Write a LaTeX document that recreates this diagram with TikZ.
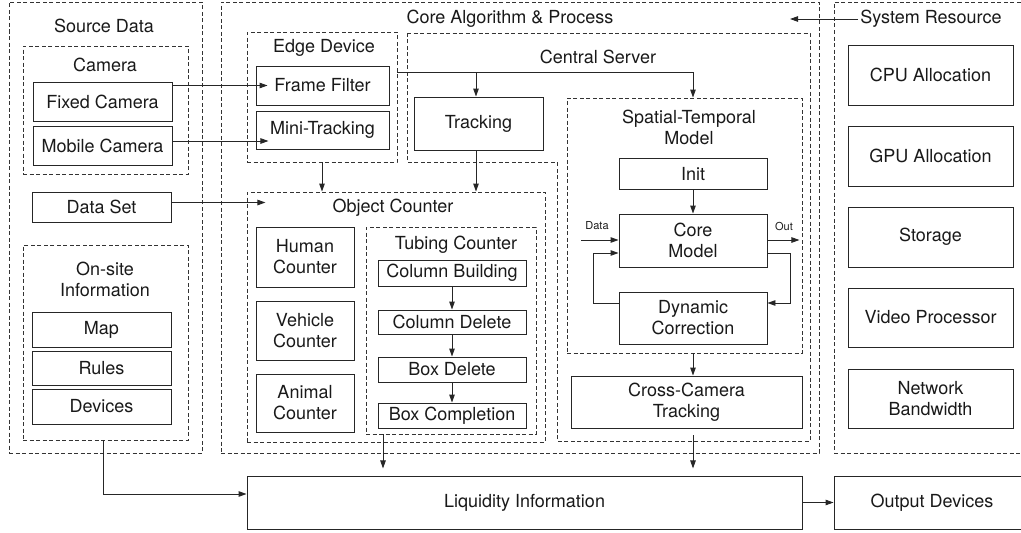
\documentclass[tikz,border=0pt]{standalone}
\usepackage{fontspec}
\setmainfont{TeX Gyre Heros}
\usetikzlibrary{arrows.meta,calc}
\begin{document}
\begin{tikzpicture}[x=1pt,y=-1pt,
  font=\fontsize{18}{21}\selectfont,
  box/.style={draw=black!85, line width=0.9pt, align=center, inner sep=0pt, text=black!90},
  grp/.style={draw=black!80, line width=0.9pt, dash pattern=on 4pt off 2.5pt, inner sep=0pt},
  lbl/.style={align=center, inner sep=2pt, text=black!90},
  small/.style={font=\fontsize{11}{13}\selectfont, inner sep=0pt, text=black!90},
  arr/.style={draw=black!85, line width=0.9pt, -{Triangle[length=8pt,width=5.5pt]}},
  ln/.style={draw=black!85, line width=0.9pt}
]
\useasboundingbox (0,0) rectangle (1021,533);
\clip (0,0) rectangle (1021,533);

% ---------- groups ----------
\node[grp, minimum width=193pt, minimum height=451pt] (sd) at (105.5,227.5) {};
\node[lbl] (sdl) at (104,26) {Source Data};
\node[grp, minimum width=165pt, minimum height=128pt] (cam) at (105.5,110) {};
\node[lbl] (caml) at (105,65) {Camera};
\node[grp, minimum width=165pt, minimum height=195pt] (osi) at (105.5,342.5) {};
\node[lbl] (osil) at (105,279) {On-site\\Information};

\node[grp, minimum width=598pt, minimum height=451pt] (core) at (520,227.5) {};
\node[lbl] (corel) at (510,19) {Core Algorithm \& Process};
\node[grp, minimum width=196pt, minimum height=451pt] (sr) at (932,227.5) {};
\node[lbl] (srl) at (931,19) {System Resource};

\node[grp, minimum width=150pt, minimum height=130pt] (ed) at (322,97) {};
\node[lbl] (edl) at (324,48) {Edge Device};
\draw[grp] (407,33) -- (810,33) -- (810,441) -- (557,441) -- (557,162) -- (407,162) -- cycle;
\node[lbl] (csl) at (598,57) {Central Server};
\node[grp, minimum width=235pt, minimum height=255pt] (stm) at (684.5,225.5) {};
\node[lbl] (stml) at (689,127) {Spatial-Temporal\\Model};
\node[grp, minimum width=298pt, minimum height=250pt] (oc) at (396,317) {};
\node[lbl] (ocl) at (393,208) {Object Counter};
\node[grp, minimum width=170pt, minimum height=207pt] (tc) at (451,330.5) {};
\node[lbl] (tcl) at (456,245) {Tubing Counter};

% ---------- boxes ----------
\node[box, minimum width=139pt, minimum height=39pt] (fixed) at (102.5,101.5) {Fixed Camera};
\node[box, minimum width=139pt, minimum height=39pt] (mobile) at (102.5,145.5) {Mobile Camera};
\node[box, minimum width=139pt, minimum height=30pt] (ds) at (101.5,207) {Data Set};
\node[box, minimum width=139pt, minimum height=35pt] (map) at (101.5,329.5) {Map};
\node[box, minimum width=139pt, minimum height=34pt] (rules) at (101.5,368) {Rules};
\node[box, minimum width=139pt, minimum height=35pt] (dev) at (101.5,406.5) {Devices};

\node[box, minimum width=133pt, minimum height=39pt] (ff) at (322.5,85.5) {Frame Filter};
\node[box, minimum width=133pt, minimum height=38pt] (mt) at (322.5,130) {Mini-Tracking};
\node[box, minimum width=129pt, minimum height=53pt] (track) at (478.5,123.5) {Tracking};

\node[box, minimum width=148pt, minimum height=31pt] (init) at (693,173.5) {Init};
\node[box, minimum width=148pt, minimum height=53pt] (cm) at (693,240.5) {Core\\Model};
\node[box, minimum width=148pt, minimum height=52pt] (dyn) at (693,318) {Dynamic\\Correction};
\node[box, minimum width=231pt, minimum height=52pt] (cross) at (686.5,402) {Cross-Camera\\Tracking};

\node[box, minimum width=98pt, minimum height=60pt] (hum) at (305,257) {Human\\Counter};
\node[box, minimum width=98pt, minimum height=59pt] (veh) at (305,330.5) {Vehicle\\Counter};
\node[box, minimum width=98pt, minimum height=58pt] (ani) at (305,403) {Animal\\Counter};
\node[box, minimum width=148pt, minimum height=26pt] (cb) at (452,273) {Column Building};
\node[box, minimum width=148pt, minimum height=24pt] (cd) at (452,322) {Column Delete};
\node[box, minimum width=148pt, minimum height=25pt] (bd) at (452,369.5) {Box Delete};
\node[box, minimum width=148pt, minimum height=25pt] (bc) at (452,415.5) {Box Completion};

\node[box, minimum width=165pt, minimum height=60pt] (cpu) at (930.5,75) {CPU Allocation};
\node[box, minimum width=165pt, minimum height=60pt] (gpu) at (930.5,156) {GPU Allocation};
\node[box, minimum width=165pt, minimum height=60pt] (sto) at (930.5,237) {Storage};
\node[box, minimum width=165pt, minimum height=59pt] (vp) at (930.5,317.5) {Video Processor};
\node[box, minimum width=165pt, minimum height=59pt] (nb) at (930.5,398.5) {Network\\Bandwidth};

\node[box, minimum width=555pt, minimum height=53pt] (liq) at (524.5,502.5) {Liquidity Information};
\node[box, minimum width=196pt, minimum height=53pt] (out) at (932,502.5) {Output Devices};

% ---------- connectors ----------
\coordinate (corein) at (790,19);
\draw[arr] (srl.west) -- (corein);

\draw[arr] (fixed.east |- ff.west) -- ([xshift=12pt]ff.west);
\draw[arr] ([yshift=4.5pt]mobile.east) -- ++(96,0);
\draw[arr] ([yshift=4.5pt]ds.east) -- ++(94,0);

\coordinate (split) at (476,72);
\draw[arr] (ed.east |- split) -| (init.north |- stm.north);
\draw[arr] (split) -- (split |- track.north);

\draw[arr] (ed.south) -- (ed.south |- oc.north);
\draw[arr] (split |- track.south) -- (split |- oc.north);

\draw[arr] (cb) -- (cd);
\draw[arr] (cd) -- (bd);
\draw[arr] (bd) -- (bc);

\draw[arr] (init) -- (cm);
\coordinate (datain) at (581,240);
\draw[arr] (datain) -- (cm.west |- datain);
\node[small] (datal) at (597,226) {Data};
\draw[arr] (cm.east |- datain) -- ++(32,0);
\node[small] (outl) at (784,226) {Out};
\draw[arr] ([yshift=-12.5pt]cm.east) -- ++(23,0) |- ([yshift=15pt]dyn.east);
\draw[arr] ([yshift=15pt]dyn.west) -- ++(-25,0) |- ([yshift=-12.5pt]cm.west);

\draw[arr] (init |- stm.south) -- (init |- cross.north);

\draw[arr] ([xshift=-68pt]tc.south) -- ++(0,34);
\draw[arr] ([yshift=-7pt]cross.south -| init) -- ++(0,33);

\draw[arr] ([xshift=-2.5pt]osi.south) |- ([yshift=8.5pt]liq.west);
\draw[arr] (liq.east) -- (out.west);
\end{tikzpicture}
\end{document}
